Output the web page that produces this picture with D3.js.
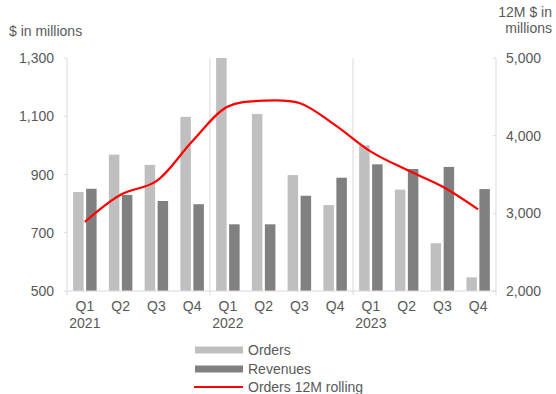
<!DOCTYPE html>
<html><head><meta charset="utf-8">
<script src="https://cdn.jsdelivr.net/npm/d3@7"></script>
<style>body{margin:0;background:#fff}text{font-family:"Liberation Sans",Arial,sans-serif;fill:#595959}</style>
</head><body><svg id="c" width="556" height="394"></svg>
<script>
const quarters = ["Q1","Q2","Q3","Q4","Q1","Q2","Q3","Q4","Q1","Q2","Q3","Q4"];
const years = ["2021","","","","2022","","","","2023","","",""];
const orders = [840,968,933,1098,1300,1108,898,795,1000,848,664,547];
const revenues = [851,830,809,798,729,729,827,889,935,919,926,850];
const rolling = [2890,3240,3415,3925,4375,4450,4420,4135,3795,3560,3345,3050];
const leftTicks = [500,700,900,1100,1300];
const rightTicks = [2000,3000,4000,5000];
const legendLabels = ["Orders","Revenues","Orders 12M rolling"];

const svg = d3.select("#c");
const L = 67, R = 496, T = 58, B = 291;
const x = d3.scaleBand().domain(d3.range(12)).range([L,R]).padding(0);
const yL = d3.scaleLinear().domain([500,1300]).range([B,T]);
const yR = d3.scaleLinear().domain([2000,5000]).range([B,T]);
const axisCol = "#d9d9d9";
const bw = 10.5, off = 6.5;

// separators
[4,8].forEach(i=>{
  svg.append("line").attr("x1",x(i)).attr("x2",x(i)).attr("y1",T).attr("y2",B+4)
    .attr("stroke",axisCol).attr("stroke-width",1);
});

// bars
svg.selectAll(".o").data(orders).join("rect")
  .attr("x",(d,i)=>x(i)+x.bandwidth()/2-off-bw/2).attr("width",bw)
  .attr("y",d=>yL(d)).attr("height",d=>B-yL(d)).attr("fill","#bfbfbf");
svg.selectAll(".r").data(revenues).join("rect")
  .attr("x",(d,i)=>x(i)+x.bandwidth()/2+off-bw/2).attr("width",bw)
  .attr("y",d=>yL(d)).attr("height",d=>B-yL(d)).attr("fill","#808080");

// axes lines
svg.append("line").attr("x1",L).attr("x2",R).attr("y1",B).attr("y2",B).attr("stroke",axisCol);
svg.append("line").attr("x1",L).attr("x2",L).attr("y1",T).attr("y2",B+4).attr("stroke",axisCol);
svg.append("line").attr("x1",R).attr("x2",R).attr("y1",T).attr("y2",B+4).attr("stroke",axisCol);

// left ticks
leftTicks.forEach(v=>{
  svg.append("line").attr("x1",L-3).attr("x2",L).attr("y1",yL(v)).attr("y2",yL(v)).attr("stroke",axisCol);
  svg.append("text").attr("x",54).attr("y",yL(v)+5).attr("text-anchor","end")
    .attr("font-size",14).text(d3.format(",")(v));
});
rightTicks.forEach(v=>{
  svg.append("line").attr("x1",R-3).attr("x2",R).attr("y1",yR(v)).attr("y2",yR(v)).attr("stroke",axisCol);
  svg.append("text").attr("x",506).attr("y",yR(v)+5).attr("text-anchor","start")
    .attr("font-size",14).text(d3.format(",")(v));
});

// x labels
quarters.forEach((q,i)=>{
  const cx = x(i)+x.bandwidth()/2;
  svg.append("text").attr("x",cx).attr("y",311).attr("text-anchor","middle").attr("font-size",14).text(q);
  if(years[i]) svg.append("text").attr("x",cx).attr("y",328).attr("text-anchor","middle").attr("font-size",14).text(years[i]);
});

// rolling line
const line = d3.line().x((d,i)=>x(i)+x.bandwidth()/2).y(d=>yR(d)).curve(d3.curveCatmullRom.alpha(0.5));
svg.append("path").datum(rolling).attr("d",line).attr("fill","none").attr("stroke","#ff0000").attr("stroke-width",2.2);

// titles
svg.append("text").attr("x",9).attr("y",36).attr("font-size",14).text("$ in millions");
svg.append("text").attr("x",552).attr("y",17).attr("text-anchor","end").attr("font-size",14).text("12M $ in");
svg.append("text").attr("x",552).attr("y",33).attr("text-anchor","end").attr("font-size",14).text("millions");

// legend
const ly = [350,369,387];
svg.append("rect").attr("x",195).attr("y",ly[0]-3.5).attr("width",48).attr("height",7).attr("fill","#bfbfbf");
svg.append("rect").attr("x",195).attr("y",ly[1]-3.5).attr("width",48).attr("height",7).attr("fill","#808080");
svg.append("line").attr("x1",194).attr("x2",243).attr("y1",ly[2]).attr("y2",ly[2]).attr("stroke","#ff0000").attr("stroke-width",2);
legendLabels.forEach((t,i)=>{
  svg.append("text").attr("x",248).attr("y",ly[i]+5).attr("font-size",14).text(t);
});
</script></body></html>
